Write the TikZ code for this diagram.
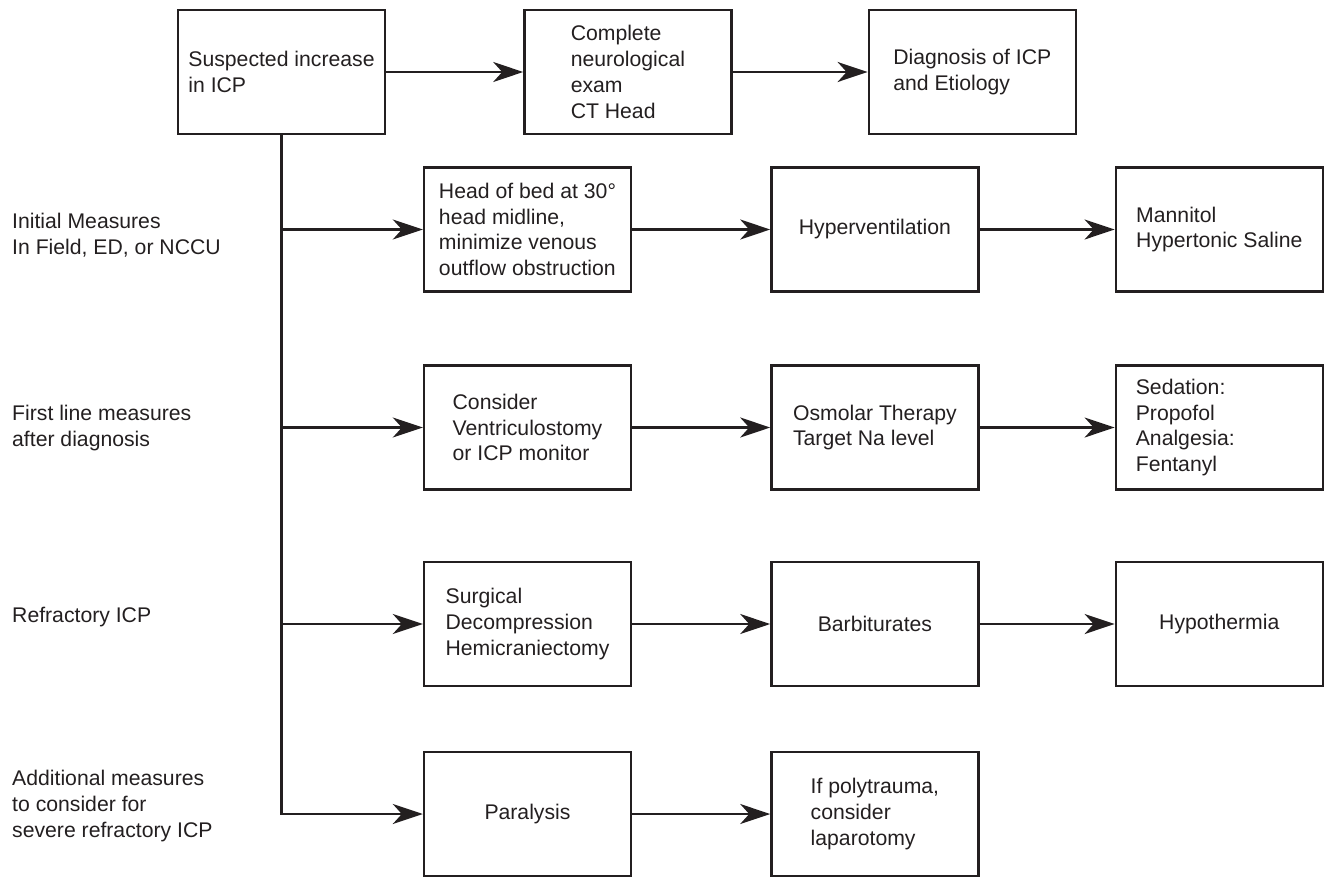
\documentclass[tikz,border=0pt]{standalone}
\usepackage{fontspec}
\setmainfont{Liberation Sans}
\usetikzlibrary{positioning,arrows.meta}
\definecolor{ink}{RGB}{35,31,32}

\begin{document}
\begin{tikzpicture}[x=0.5pt, y=-0.5pt, color=ink, line width=1.2pt,
  >={Stealth[length=15pt,width=10pt,inset=4.5pt]},
  font=\fontsize{10.6}{12.9}\selectfont,
  box/.style={draw,minimum width=103.5pt,minimum height=62pt,align=left,inner sep=0pt},
  boxl/.style={box,text width=83.5pt}, side/.style={anchor=west,align=left,inner sep=0pt}]
  \useasboundingbox (0,0) rectangle (1325,878);
  % top row
  \node[box](susp) at (281.5,72){Suspected increase\\in ICP};
  \node[box,right=68.5pt of susp](exam){Complete\\neurological\\exam\\CT Head};
  \node[box,right=67.5pt of exam](diag){Diagnosis of ICP\\and Etiology};
  % treatment rows
  \node[box](head) at (527.5,229.5){Head of bed at 30°\\head midline,\\minimize venous\\outflow obstruction};
  \node[box,right=69pt of head](hyper){Hyperventilation};
  \node[box,right=67.5pt of hyper](mann){Mannitol\\Hypertonic Saline};
  \node[box](vent) at (527.5,427.5){Consider\\Ventriculostomy\\or ICP monitor};
  \node[box,right=69pt of vent](osmo){Osmolar Therapy\\Target Na level};
  \node[boxl,right=67.5pt of osmo](sed){Sedation:\\Propofol\\Analgesia:\\Fentanyl};
  \node[box](surg) at (527.5,624){Surgical\\Decompression\\Hemicraniectomy};
  \node[box,right=69pt of surg](barb){Barbiturates};
  \node[box,right=67.5pt of barb](hypo){Hypothermia};
  \node[box](paral) at (527.5,814){Paralysis};
  \node[box,right=69pt of paral](poly){If polytrauma,\\consider\\laparotomy};
  % stage labels
  \node[side](lab1) at (11,235.5){Initial Measures\\In Field, ED, or NCCU};
  \node[side](lab2) at (11,428){First line measures\\after diagnosis};
  \node[side](lab3) at (11,617){Refractory ICP};
  \node[side](lab4) at (11,806){Additional measures\\to consider for\\severe refractory ICP};
  \draw[->](susp)--(exam);\draw[->](exam)--(diag);
  \draw[->](head)--(hyper);\draw[->](hyper)--(mann);
  \draw[->](vent)--(osmo);\draw[->](osmo)--(sed);
  \draw[->](surg)--(barb);\draw[->](barb)--(hypo);
  \draw[->](paral)--(poly);
  \draw[->](susp.south)|-(paral.west);
  \foreach \n in {head,vent,surg} \draw[->](susp.south |- \n.west)--(\n.west);
\end{tikzpicture}
\end{document}
